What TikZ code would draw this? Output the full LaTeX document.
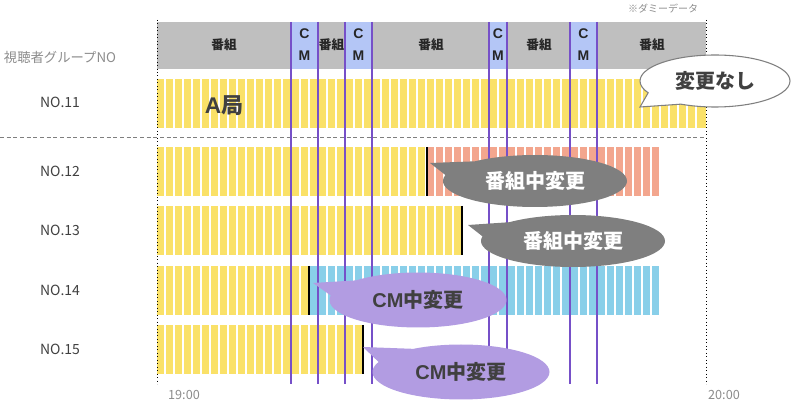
\documentclass[tikz,border=0pt]{standalone}
\usepackage{fontspec}
\setmainfont{Noto Sans CJK JP}
\newfontfamily\lat{Liberation Sans}
\usetikzlibrary{shapes.callouts}
\definecolor{hdrgray}{RGB}{191,191,191}
\definecolor{cmblue}{RGB}{180,198,246}
\definecolor{baryel}{RGB}{250,225,104}
\definecolor{barsal}{RGB}{243,166,142}
\definecolor{barblu}{RGB}{137,207,233}
\definecolor{cmline}{RGB}{118,80,200}
\definecolor{calgray}{RGB}{127,127,127}
\definecolor{calpur}{RGB}{178,156,226}
\definecolor{txtdark}{RGB}{64,64,64}
\definecolor{txtlight}{RGB}{140,140,140}
\newdimen\pxu \pxu=0.75pt
\begin{document}
\begin{tikzpicture}[x=0.75pt,y=-0.75pt,
  hdrtxt/.style={font=\bfseries\fontsize{9.5}{11}\selectfont, text=black!85, inner sep=0pt},
  cmtxt/.style={font=\lat\bfseries\fontsize{10.5}{16.5}\selectfont, text=black!85, align=center, inner sep=0pt},
  rowlbl/.style={font=\fontsize{10.5}{12}\selectfont, text=txtdark, inner sep=0pt},
  axlbl/.style={font=\fontsize{9.5}{11}\selectfont, text=txtlight, inner sep=0pt},
  stripe/.style={draw=white, line width=1.1pt},
  cmvline/.style={draw=cmline, line width=1.5pt},
  chgline/.style={draw=black, line width=0.9pt},
  balloon/.style={ellipse callout, inner sep=0pt, callout pointer arc=36},
  grayballoon/.style={balloon, fill=calgray, text=white, minimum width=184\pxu, minimum height=52\pxu,
     font=\bfseries\fontsize{15}{16}\selectfont},
  purballoon/.style={balloon, fill=calpur, text=txtdark, minimum width=177\pxu, minimum height=55\pxu,
     font=\bfseries\fontsize{15}{16}\selectfont},
]
\useasboundingbox (0,0) rectangle (797,406);

% header
\fill[hdrgray] (157,22) rectangle (706,69);
\foreach \a/\b in {291/318,345/372,489/507,570/597}
  \fill[cmblue] (\a,22) rectangle (\b,69);

% bars
\fill[baryel] (157,79) rectangle (706,128);
\fill[baryel] (157,147) rectangle (427,196);
\fill[barsal] (427,147) rectangle (660,196);
\fill[baryel] (157,206) rectangle (462,255);
\fill[baryel] (157,266) rectangle (309,315);
\fill[barblu] (309,266) rectangle (660,315);
\fill[baryel] (157,325) rectangle (363,374);

% white cell stripes
\foreach \k in {1,...,60}
  \draw[stripe] ({156+9*\k},77) -- ({156+9*\k},376);

% change markers
\draw[chgline] (427,147) -- (427,196);
\draw[chgline] (462,206) -- (462,255);
\draw[chgline] (309,266) -- (309,315);
\draw[chgline] (363,325) -- (363,374);

% frame lines
\draw[black, line width=0.6pt, dotted] (157,20) -- (157,384);
\draw[black, line width=0.6pt, dotted] (706,20) -- (706,384);
\draw[calgray, line width=0.7pt, dash pattern=on 3pt off 2pt] (0,137) -- (706,137);

% CM boundary lines
\foreach \x in {291,318,345,372,489,507,570,597}
  \draw[cmvline] (\x,22) -- (\x,384);

% header labels
\node[hdrtxt] (h1) at (224,45) {番組};
\node[cmtxt]  (c1) at (304.5,45) {C\\M};
\node[hdrtxt] (h2) at (331.5,45) {番組};
\node[cmtxt]  (c2) at (358.5,45) {C\\M};
\node[hdrtxt] (h3) at (431,45) {番組};
\node[cmtxt]  (c3) at (498,45) {C\\M};
\node[hdrtxt] (h4) at (539,45) {番組};
\node[cmtxt]  (c4) at (583.5,45) {C\\M};
\node[hdrtxt] (h5) at (652,45) {番組};

% side labels
\node[axlbl, font=\fontsize{10}{12}\selectfont] (grp) at (60,57) {視聴者グループNO};
\node[rowlbl] (n11) at (60,102) {NO.11};
\node[rowlbl] (n12) at (60,171) {NO.12};
\node[rowlbl] (n13) at (60,230) {NO.13};
\node[rowlbl] (n14) at (60,290) {NO.14};
\node[rowlbl] (n15) at (60,349) {NO.15};
\node[axlbl] (t19) at (184,395) {19:00};
\node[axlbl] (t20) at (724,395) {20:00};
\node[axlbl, font=\fontsize{7.5}{9}\selectfont] (dummy) at (663,9) {※ダミーデータ};

% station label
\node[inner sep=0pt, text=txtdark] (st) at (224,106) {{\lat\bfseries\fontsize{17}{19}\selectfont A}{\bfseries\fontsize{16.5}{19}\selectfont 局}};

% callout pointers
\coordinate (p11) at (640,107);
\coordinate (p12) at (430,163);
\coordinate (p13) at (468,225);
\coordinate (p14) at (313,283);
\coordinate (p15) at (363,347);

% callouts
\node[balloon, fill=white, draw=calgray, line width=0.8pt, minimum width=150\pxu, minimum height=52\pxu,
      text=txtdark, font=\bfseries\fontsize{15}{16}\selectfont, callout absolute pointer=(p11)]
      (b11) at (715,81) {変更なし};
\node[grayballoon, callout absolute pointer=(p12)] (b12) at (535,181) {番組中変更};
\node[grayballoon, callout absolute pointer=(p13)] (b13) at (573,241) {番組中変更};
\node[purballoon, callout absolute pointer=(p14)] (b14) at (418,300) {{\lat CM}中変更};
\node[purballoon, callout absolute pointer=(p15)] (b15) at (461,372) {{\lat CM}中変更};
\end{tikzpicture}
\end{document}
